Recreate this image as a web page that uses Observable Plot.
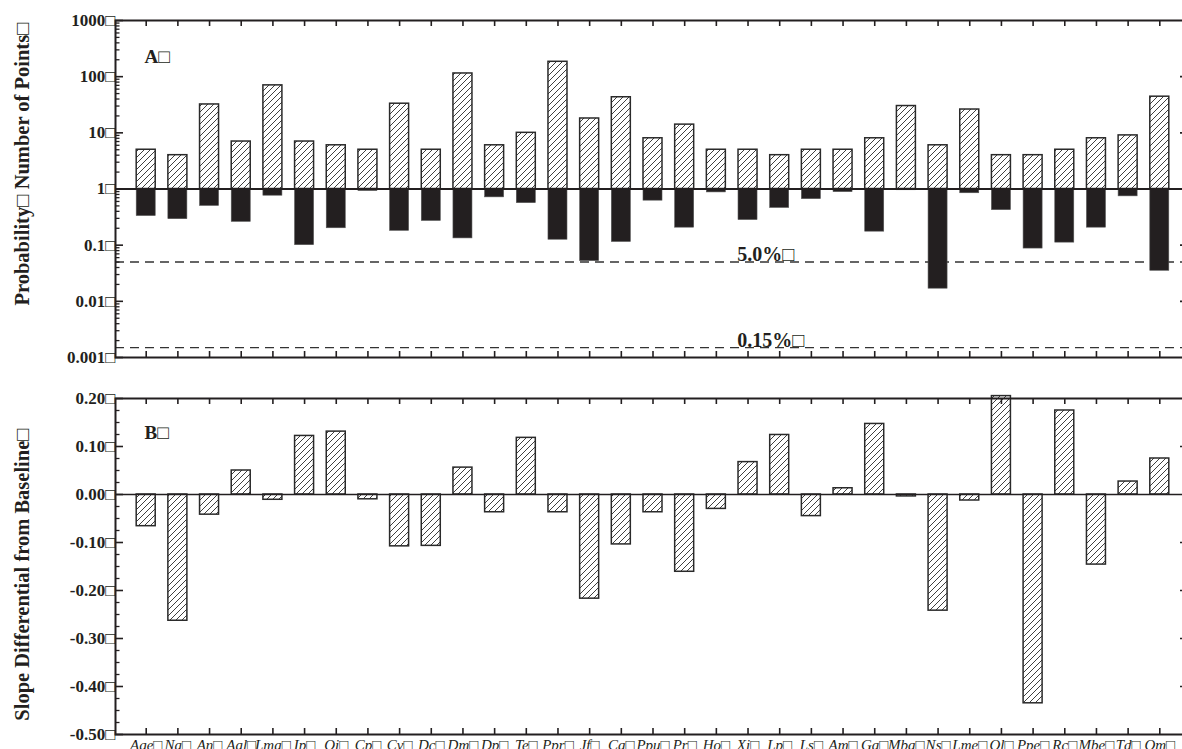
<!DOCTYPE html>
<html><head><meta charset="utf-8">
<script src="https://cdn.jsdelivr.net/npm/d3@7"></script>
<script src="https://cdn.jsdelivr.net/npm/@observablehq/plot@0.6"></script>
<style>
html,body{margin:0;padding:0;background:#fff;overflow:hidden;}
#chart svg{display:block;}
</style></head><body>
<svg width="0" height="0" style="position:absolute">
  <defs>
    <pattern id="hatch" patternUnits="userSpaceOnUse" width="6" height="6">
      <rect width="6" height="6" fill="#fff"/>
      <path d="M-1.5,1.5 L1.5,-1.5 M0,6 L6,0 M4.5,7.5 L7.5,4.5" stroke="#2a2a2a" stroke-width="0.9"/>
    </pattern>
  </defs>
</svg>
<div id="chart"></div>
<script>
const species = ["Age","Na","An","Aal","Lma","Ip","Oi","Cp","Cv","Dc","Dm","Dp","Te","Ppr","Jf","Ca","Ppu","Pr","Ho","Xi","Lp","Ls","Am","Ga","Mba","Ns","Lme","Ol","Ppe","Rc","Mbe","Td","Om"];
const numberOfPoints = [5,4,32,7,70,7,6,5,33,5,114,6,10,184,18,43,8,14,5,5,4,5,5,8,30,6,26,4,4,5,8,9,44];
const probability = [0.33,0.29,0.50,0.26,0.76,0.10,0.20,0.92,0.18,0.27,0.132,0.71,0.56,0.125,0.052,0.114,0.62,0.205,0.87,0.28,0.46,0.66,0.88,0.174,0.95,0.0168,0.84,0.42,0.087,0.111,0.205,0.74,0.035];
const slopeDiff = [-0.066,-0.263,-0.042,0.05,-0.011,0.122,0.131,-0.010,-0.108,-0.107,0.056,-0.037,0.118,-0.037,-0.217,-0.104,-0.037,-0.161,-0.030,0.0675,0.124,-0.045,0.013,0.147,-0.004,-0.242,-0.0125,0.205,-0.435,0.175,-0.146,0.027,0.075];
const thresholdValues = [0.05, 0.0015];
const thresholdLabels = ["5.0%□", "0.15%□"];
const logTicks = [0.001, 0.01, 0.1, 1, 10, 100, 1000];
const logTickLabels = ["0.001□", "0.01□", "0.1□", "1□", "10□", "100□", "1000□"];
const slopeTicks = [0.2, 0.1, 0, -0.1, -0.2, -0.3, -0.4, -0.5];
const slopeTickLabels = ["0.20□", "0.10□", "0.00□", "-0.10□", "-0.20□", "-0.30□", "-0.40□", "-0.50□"];
const titleA = "Probability□ Number of Points□";
const titleB = "Slope Differential from Baseline□";

const data = species.map((s, i) => ({species: s, points: numberOfPoints[i], prob: probability[i], slope: slopeDiff[i]}));

const W = 1182, ML = 115, MR = 0;
const innerW = W - ML - MR;
const ink = "#231f20";
const font = "Liberation Serif, Times New Roman, serif";
const xScale = {type: "band", domain: species, range: [136.2, 1168.8], paddingInner: 0.4, paddingOuter: 0, align: 0.5, round: false};

const minorLog = [];
for (let e = -3; e < 3; e++) for (let m = 2; m <= 9; m++) minorLog.push(m * Math.pow(10, e));
const minorSlope = d3.range(-0.5, 0.2001, 0.025).map(v => +v.toFixed(3)).filter(v => !slopeTicks.some(t => Math.abs(t - v) < 1e-9));

// ---------- Panel A ----------
const hA = 370, mtA = 20, mbA = 13, innerHA = hA - mtA - mbA;
const plotA = Plot.plot({
  width: W, height: hA, marginLeft: ML, marginRight: MR, marginTop: mtA, marginBottom: mbA,
  style: {fontFamily: font, background: "#fff", overflow: "hidden"},
  x: {...xScale, axis: null},
  y: {type: "log", domain: [0.001, 1000], axis: null},
  marks: [
    Plot.ruleY(thresholdValues, {stroke: "#333", strokeWidth: 1.4, strokeDasharray: "9,6"}),
    Plot.barY(data, {x: "species", y1: 1, y2: "prob", fill: ink, stroke: "#555", strokeWidth: 0.6}),
    Plot.barY(data, {x: "species", y1: 1, y2: "points", fill: "url(#hatch)", stroke: "#2a2a2a", strokeWidth: 1.5}),
    Plot.ruleY([1], {stroke: ink, strokeWidth: 2}),
    Plot.frame({stroke: ink, strokeWidth: 2, insetRight: -10}),
    Plot.tickX(species, {x: d => d, insetBottom: innerHA - 6, stroke: ink, strokeWidth: 1.6}),
    Plot.tickX(species, {x: d => d, insetTop: innerHA - 6, stroke: ink, strokeWidth: 1.6}),
    Plot.tickY(logTicks, {y: d => d, insetRight: innerW - 8, stroke: ink, strokeWidth: 1.6}),
    Plot.tickY(minorLog, {y: d => d, insetRight: innerW - 4.5, stroke: ink, strokeWidth: 1.3}),
    Plot.tickY([0.01, 0.1, 10, 100], {y: d => d, insetLeft: innerW - 2, stroke: ink, strokeWidth: 1.6}),
    Plot.text(logTicks, {y: d => d, text: (d, i) => logTickLabels[i], frameAnchor: "left", textAnchor: "end", dx: 0, fontWeight: "bold", fontSize: 17, fill: ink, fontFamily: font}),
    Plot.text(thresholdValues, {y: d => d, x: () => "Ho", text: (d, i) => thresholdLabels[i], textAnchor: "start", lineAnchor: "bottom", dx: 21, dy: -1, fontWeight: "bold", fontSize: 20, fill: ink, fontFamily: font}),
    Plot.text([titleA], {text: d => d, frameAnchor: "left", textAnchor: "middle", rotate: -90, dx: -93, dy: -25, fontWeight: "bold", fontSize: 20.5, fill: ink, fontFamily: font}),
    Plot.text(["A□"], {text: d => d, frameAnchor: "top-left", textAnchor: "start", dx: 29, dy: 29, fontWeight: "bold", fontSize: 19, fill: ink, fontFamily: font})
  ]
});

// ---------- Panel B ----------
const hB = 379, mtB = 28, mbB = 15, innerHB = hB - mtB - mbB;
const plotB = Plot.plot({
  width: W, height: hB, marginLeft: ML, marginRight: MR, marginTop: mtB, marginBottom: mbB,
  style: {fontFamily: font, background: "#fff", overflow: "hidden"},
  x: {...xScale, axis: null},
  y: {domain: [-0.5, 0.2], axis: null},
  marks: [
    Plot.barY(data, {x: "species", y: "slope", fill: "url(#hatch)", stroke: "#2a2a2a", strokeWidth: 1.5}),
    Plot.ruleY([0], {stroke: ink, strokeWidth: 1.6}),
    Plot.frame({stroke: ink, strokeWidth: 2, insetRight: -10}),
    Plot.tickX(species, {x: d => d, insetBottom: innerHB - 6, stroke: ink, strokeWidth: 1.6}),
    Plot.tickX(species, {x: d => d, insetTop: innerHB - 6, stroke: ink, strokeWidth: 1.6}),
    Plot.tickY(slopeTicks, {y: d => d, insetRight: innerW - 8, stroke: ink, strokeWidth: 1.6}),
    Plot.tickY(minorSlope, {y: d => d, insetRight: innerW - 4.5, stroke: ink, strokeWidth: 1.3}),
    Plot.tickY([0.1, -0.1, -0.2, -0.3, -0.4], {y: d => d, insetLeft: innerW - 2, stroke: ink, strokeWidth: 1.6}),
    Plot.text(slopeTicks, {y: d => d, text: (d, i) => slopeTickLabels[i], frameAnchor: "left", textAnchor: "end", dx: 0, fontWeight: "bold", fontSize: 17, fill: ink, fontFamily: font}),
    Plot.text(species, {x: d => d, text: d => d + "□", frameAnchor: "bottom", lineAnchor: "top", dy: 5, fontStyle: "italic", fontSize: 15, fill: ink, fontFamily: font}),
    Plot.text([titleB], {text: d => d, frameAnchor: "left", textAnchor: "middle", rotate: -90, dx: -93, dy: 8, fontWeight: "bold", fontSize: 20.5, fill: ink, fontFamily: font}),
    Plot.text(["B□"], {text: d => d, frameAnchor: "top-left", textAnchor: "start", dx: 29, dy: 27, fontWeight: "bold", fontSize: 19, fill: ink, fontFamily: font})
  ]
});

const chart = document.getElementById("chart");
chart.appendChild(plotA);
chart.appendChild(plotB);
</script>
</body></html>
